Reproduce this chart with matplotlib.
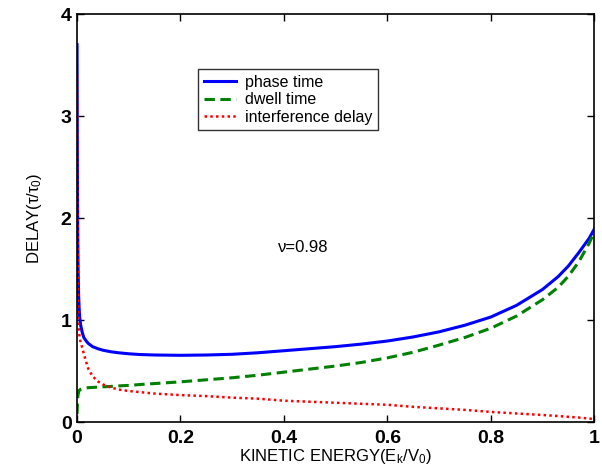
import numpy as np
import matplotlib
matplotlib.use("Agg")
import matplotlib.pyplot as plt

plt.rcParams['font.family'] = ['Liberation Sans', 'DejaVu Sans']
plt.rcParams['mathtext.fontset'] = 'custom'
plt.rcParams['mathtext.rm'] = 'Liberation Sans'
plt.rcParams['mathtext.it'] = 'Liberation Sans'

# kinetic energy E_k/V_0
energy = [0, 0.0005, 0.001, 0.0015, 0.002, 0.003, 0.004, 0.005, 0.007, 0.01,
          0.013, 0.017, 0.022, 0.03, 0.04, 0.05, 0.065, 0.08, 0.1, 0.12,
          0.15, 0.2, 0.25, 0.3, 0.35, 0.4, 0.45, 0.5, 0.55, 0.6,
          0.65, 0.7, 0.75, 0.8, 0.85, 0.9, 0.93, 0.95, 0.97, 0.99, 1.0]

phase_time = [3.7, 2.7, 2.1, 1.75, 1.5, 1.25, 1.12, 1.03, 0.95, 0.88,
              0.83, 0.80, 0.77, 0.74, 0.72, 0.705, 0.69, 0.68, 0.67, 0.663,
              0.658, 0.655, 0.658, 0.665, 0.68, 0.70, 0.72, 0.74, 0.765, 0.795,
              0.835, 0.885, 0.95, 1.03, 1.145, 1.30, 1.425, 1.53, 1.66, 1.80, 1.89]

dwell_time = [0.08, 0.16, 0.21, 0.25, 0.27, 0.295, 0.31, 0.315, 0.322, 0.328,
              0.332, 0.335, 0.338, 0.34, 0.343, 0.346, 0.35, 0.355, 0.36, 0.368,
              0.378, 0.395, 0.415, 0.435, 0.46, 0.49, 0.52, 0.55, 0.585, 0.63,
              0.685, 0.755, 0.83, 0.92, 1.04, 1.20, 1.32, 1.43, 1.57, 1.75, 1.86]

interference = [3.4, 2.3, 1.75, 1.4, 1.15, 0.95, 0.88, 0.83, 0.78, 0.73,
                0.67, 0.60, 0.52, 0.45, 0.40, 0.37, 0.34, 0.32, 0.305, 0.295,
                0.28, 0.265, 0.255, 0.24, 0.23, 0.21, 0.20, 0.19, 0.18, 0.17,
                0.15, 0.135, 0.12, 0.10, 0.085, 0.07, 0.06, 0.052, 0.045, 0.035, 0.03]

fig = plt.figure(figsize=(6.02, 4.68), dpi=100)
ax = fig.add_axes([0.128, 0.098, 0.859, 0.872])

ax.plot(energy, phase_time, color='#0000ff', lw=2.2, label='phase time')
ax.plot(energy, dwell_time, color='#008000', lw=2.2, ls=(0, (3.4, 1.8)), label='dwell time')
ax.plot(energy, interference, color='#ff0000', lw=1.8, ls=(0, (1, 1.3)), label='interference delay')

ax.set_xlim(0, 1)
ax.set_ylim(0, 4)
ax.set_xticks([0, 0.2, 0.4, 0.6, 0.8, 1])
ax.set_xticklabels(['0', '0.2', '0.4', '0.6', '0.8', '1'])
ax.set_yticks([0, 1, 2, 3, 4])
ax.tick_params(direction='in', top=True, right=True, length=5, width=1,
               labelsize=14)
ax.tick_params(axis='x', pad=6)
ax.tick_params(axis='y', pad=4)
for lab in ax.get_xticklabels() + ax.get_yticklabels():
    lab.set_fontweight('bold')
for s in ax.spines.values():
    s.set_linewidth(1.2)

ax.set_xlabel('KINETIC ENERGY(E$_\\mathrm{k}$/V$_\\mathrm{0}$)', fontsize=12, labelpad=0)
ax.set_ylabel('DELAY(τ/τ$_\\mathrm{0}$)', fontsize=12, labelpad=12)

ax.text(0.389, 1.67, 'ν=0.98', fontsize=12)

leg = ax.legend(loc='upper left', bbox_to_anchor=(0.234, 0.865), fontsize=11.5,
                frameon=True, fancybox=False, edgecolor='black', handlelength=2.0,
                borderpad=0.35, labelspacing=0.15, handletextpad=0.6, borderaxespad=0)
leg.get_frame().set_linewidth(1.0)

fig.savefig('out.png', dpi=100)
